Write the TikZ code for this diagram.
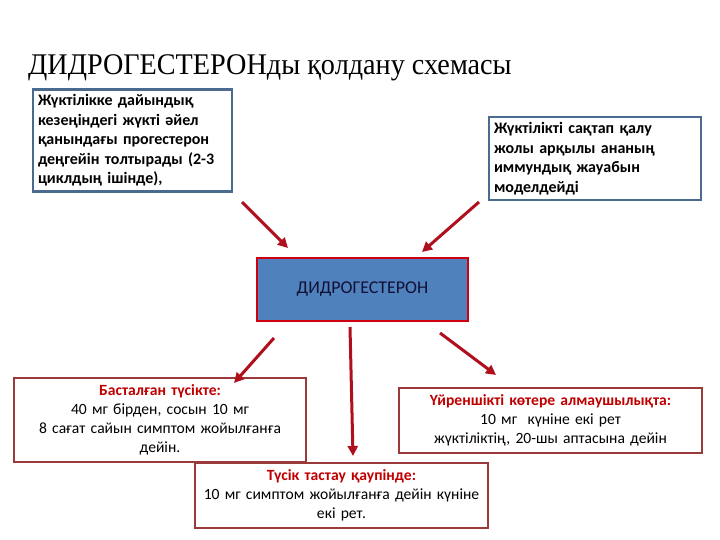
\documentclass[tikz,border=0pt]{standalone}
\usepackage{fontspec}
\setmainfont{Carlito}
\newfontfamily\titlefont{Liberation Serif}
\usetikzlibrary{arrows.meta}
\definecolor{bluegrey}{HTML}{4A6A90}
\definecolor{boxblue}{HTML}{4F81BD}
\definecolor{brightred}{HTML}{D00010}
\definecolor{darkred}{HTML}{9B3A3A}
\definecolor{arrowred}{HTML}{B0101E}
\definecolor{headred}{HTML}{C00000}
\definecolor{navytext}{HTML}{101034}
\tikzset{
  x=1pt, y=-1pt,
  bluebox/.style={draw=bluegrey, line width=2.5pt, fill=white, inner sep=5pt,
    font=\fontsize{16}{19.5}\selectfont\bfseries, align=left},
  redbox/.style={draw=darkred, line width=2.5pt, fill=white, inner sep=5pt,
    font=\fontsize{15.6}{19}\selectfont, align=center},
  centerbox/.style={draw=brightred, line width=2pt, fill=boxblue,
    font=\fontsize{18}{20}\selectfont, text=navytext},
  redarrow/.style={draw=arrowred, line width=3pt, -{Triangle[length=10pt,width=10pt]}}
}
\begin{document}
\begin{tikzpicture}
\useasboundingbox (0,0) rectangle (720,540);
\node[anchor=base west, inner sep=0pt, xscale=0.94, font=\titlefont\fontsize{30}{32}\selectfont] (title) at (28,75) {ДИДРОГЕСТЕРОНды қолдану схемасы};

\node[bluebox, minimum width=199pt, minimum height=101pt, text width=189pt] (b1) at (132.5,140.5)
 {Жүктілікке дайындық\\кезеңіндегі жүкті әйел\\қанындағы прогестерон\\деңгейін толтырады (2-3\\циклдың ішінде),};
\node[bluebox, minimum width=212pt, minimum height=83pt, text width=202pt] (b2) at (595,158.5)
 {Жүктілікті сақтап қалу\\жолы арқылы ананың\\иммундық жауабын\\моделдейді};

\node[centerbox, minimum width=211pt, minimum height=63pt] (c) at (362.5,289.5) {ДИДРОГЕСТЕРОН};

\node[redbox, minimum width=292pt, minimum height=84pt, text width=282pt] (bl) at (160,420)
 {{\color{headred}\bfseries Басталған түсікте:}\\40 мг бірден, сосын 10 мг\\8 сағат сайын симптом жойылғанға\\дейін.};
\node[redbox, minimum width=303pt, minimum height=65pt, text width=293pt] (br) at (550.5,420.5)
 {{\color{headred}\bfseries Үйреншікті көтере алмаушылықта:}\\10 мг\ \ күніне екі рет\\жүктіліктің, 20-шы аптасына дейін};
\node[redbox, minimum width=293pt, minimum height=65pt, text width=283pt] (bm) at (341.5,495.5)
 {{\color{headred}\bfseries Түсік тастау қаупінде:}\\10 мг симптом жойылғанға дейін күніне\\екі рет.};

\coordinate (a1s) at (242,202); \coordinate (a1e) at (288,248);
\coordinate (a2s) at (479,202); \coordinate (a2e) at (422,252);
\coordinate (a3s) at (274,338); \coordinate (a3e) at (234,383);
\coordinate (a4s) at (350,327); \coordinate (a4e) at (353,456);
\coordinate (a5s) at (440,333); \coordinate (a5e) at (496,375);
\draw[redarrow] (a1s) -- (a1e);
\draw[redarrow] (a2s) -- (a2e);
\draw[redarrow] (a3s) -- (a3e);
\draw[redarrow] (a4s) -- (a4e);
\draw[redarrow] (a5s) -- (a5e);
\end{tikzpicture}
\end{document}
